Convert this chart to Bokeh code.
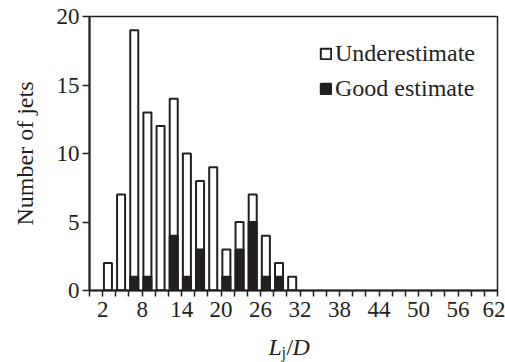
from bokeh.plotting import figure
from bokeh.layouts import column
from bokeh.models import FixedTicker, Range1d, Label, Legend, LegendItem
from bokeh.embed import file_html
from bokeh.resources import INLINE

# ---- data ----
bin_starts = [2, 4, 6, 8, 10, 12, 14, 16, 18, 20, 22, 24, 26, 28, 30]
underestimate = [2, 7, 19, 13, 12, 14, 10, 8, 9, 3, 5, 7, 4, 2, 1]
good_estimate = [0, 0, 1, 1, 0, 4, 1, 3, 0, 1, 3, 5, 1, 1, 0]
x_ticks = list(range(0, 63, 2))
x_tick_labels = [2, 8, 14, 20, 26, 32, 38, 44, 50, 56, 62]
y_ticks = [0, 5, 10, 15, 20]

INK = "#231f20"
FONT = "Liberation Serif"

p = figure(width=505, height=328, output_backend="svg", toolbar_location=None,
           x_range=Range1d(0, 62), y_range=Range1d(0, 20),
           min_border_left=89, min_border_right=8, min_border_top=16, min_border_bottom=38)
p.grid.visible = False
p.outline_line_color = INK
p.outline_line_width = 1.5
p.background_fill_color = "white"
p.border_fill_color = "white"

centers = [s + 0.8 for s in bin_starts]
r1 = p.vbar(x=centers, top=underestimate, width=1.22, bottom=0,
            fill_color="white", line_color=INK, line_width=2)
r2 = p.vbar(x=centers, top=good_estimate, width=1.22, bottom=0,
            fill_color=INK, line_color=INK, line_width=2)

for ax in (p.xaxis[0], p.yaxis[0]):
    ax.axis_line_color = INK
    ax.axis_line_width = 2
    ax.major_tick_line_color = INK
    ax.major_tick_line_width = 1.5
    ax.major_tick_in = 0
    ax.minor_tick_line_color = None
    ax.major_label_text_font = FONT
    ax.major_label_text_font_size = "23px"
    ax.major_label_text_color = INK

p.xaxis.ticker = FixedTicker(ticks=x_ticks)
p.xaxis.major_label_overrides = {t: ("" if t not in x_tick_labels else str(t)) for t in x_ticks}
p.xaxis.major_tick_out = 6
p.xaxis.major_label_standoff = 5

p.yaxis.ticker = FixedTicker(ticks=y_ticks)
p.yaxis.major_tick_out = 7
p.yaxis.major_label_standoff = 3
p.yaxis.axis_label = "Number of jets"
p.yaxis.axis_label_text_font = FONT
p.yaxis.axis_label_text_font_size = "24px"
p.yaxis.axis_label_text_font_style = "normal"
p.yaxis.axis_label_text_color = INK
p.yaxis.axis_label_standoff = 16

legend = Legend(items=[LegendItem(label="Underestimate", renderers=[r1]),
                       LegendItem(label="Good estimate", renderers=[r2])],
                location=(230, 187), border_line_color=None, background_fill_alpha=0,
                padding=0, margin=0, spacing=5, glyph_width=13, glyph_height=13,
                label_standoff=3, label_height=30,
                label_text_font=FONT, label_text_font_size="24px", label_text_color=INK)
p.add_layout(legend)

# strip below the chart carrying the x-axis title  L_j/D
p2 = figure(width=505, height=34, output_backend="svg", toolbar_location=None,
            x_range=Range1d(0, 1), y_range=Range1d(0, 1),
            x_axis_location=None, y_axis_location=None, min_border=0)
p2.grid.visible = False
p2.outline_line_color = None
p2.background_fill_color = "white"
p2.border_fill_color = "white"
lab_kw = dict(x_units="canvas", y_units="canvas", text_font=FONT,
              text_color=INK, text_baseline="alphabetic")
p2.add_layout(Label(x=268, y=18, text="L", text_font_size="24px", text_font_style="italic", **lab_kw))
p2.add_layout(Label(x=281, y=24, text="j", text_font_size="16px", **lab_kw))
p2.add_layout(Label(x=286, y=18, text="/", text_font_size="24px", **lab_kw))
p2.add_layout(Label(x=292, y=18, text="D", text_font_size="24px", text_font_style="italic", **lab_kw))

layout = column(p, p2, spacing=0)
open("out.html", "w").write(file_html(layout, INLINE))
